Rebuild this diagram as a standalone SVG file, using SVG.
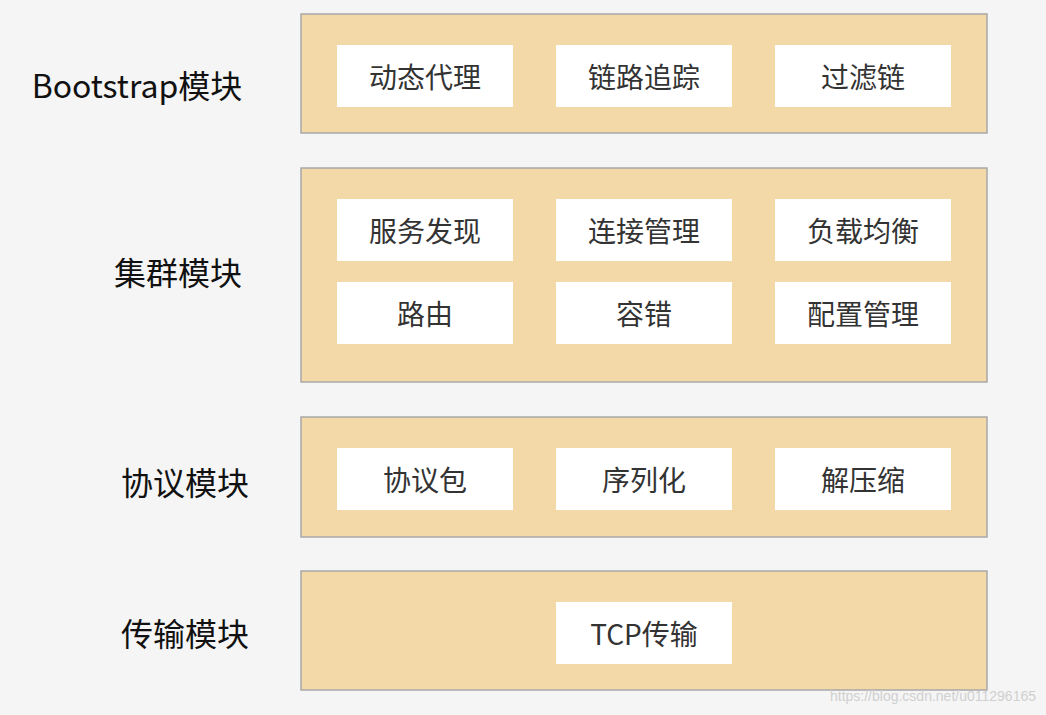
<svg xmlns="http://www.w3.org/2000/svg" width="1046" height="715" viewBox="0 0 1046 715">
<style>
.p{fill:#f3d9a8;stroke:#a8a8a8;stroke-width:1.5}
.b{fill:#fff}
.t{font-family:"Noto Sans CJK SC","Liberation Sans",sans-serif;font-size:28px;fill:#333;text-anchor:middle;dominant-baseline:central}
.l{font-family:"Noto Sans CJK SC","Liberation Sans",sans-serif;font-size:32px;fill:#111;text-anchor:middle;dominant-baseline:central}
</style>
<rect width="1046" height="715" fill="#f5f5f5"/>
<g id="bootstrap"><rect class="p" x="301" y="14" width="686" height="119"/><text class="l" x="137" y="84">Bootstrap模块</text>
<rect class="b" x="337" y="45" width="176" height="62"/><text class="t" x="425" y="76">动态代理</text>
<rect class="b" x="556" y="45" width="176" height="62"/><text class="t" x="644" y="76">链路追踪</text>
<rect class="b" x="775" y="45" width="176" height="62"/><text class="t" x="863" y="76">过滤链</text></g>
<g id="cluster"><rect class="p" x="301" y="168" width="686" height="214"/><text class="l" x="178" y="271">集群模块</text>
<rect class="b" x="337" y="199" width="176" height="62"/><text class="t" x="425" y="230">服务发现</text>
<rect class="b" x="556" y="199" width="176" height="62"/><text class="t" x="644" y="230">连接管理</text>
<rect class="b" x="775" y="199" width="176" height="62"/><text class="t" x="863" y="230">负载均衡</text>
<rect class="b" x="337" y="282" width="176" height="62"/><text class="t" x="425" y="313">路由</text>
<rect class="b" x="556" y="282" width="176" height="62"/><text class="t" x="644" y="313">容错</text>
<rect class="b" x="775" y="282" width="176" height="62"/><text class="t" x="863" y="313">配置管理</text></g>
<g id="protocol"><rect class="p" x="301" y="417" width="686" height="120"/><text class="l" x="185" y="481">协议模块</text>
<rect class="b" x="337" y="448" width="176" height="62"/><text class="t" x="425" y="479">协议包</text>
<rect class="b" x="556" y="448" width="176" height="62"/><text class="t" x="644" y="479">序列化</text>
<rect class="b" x="775" y="448" width="176" height="62"/><text class="t" x="863" y="479">解压缩</text></g>
<g id="transport"><rect class="p" x="301" y="571" width="686" height="119"/><text class="l" x="185" y="632">传输模块</text>
<rect class="b" x="556" y="602" width="176" height="62"/><text class="t" x="644" y="633">TCP传输</text></g>
<g id="connectors"/>
<text x="1036" y="701" text-anchor="end" font-family="Liberation Sans,sans-serif" font-size="14" fill="#d0d0d0">https://blog.csdn.net/u011296165</text>
</svg>
